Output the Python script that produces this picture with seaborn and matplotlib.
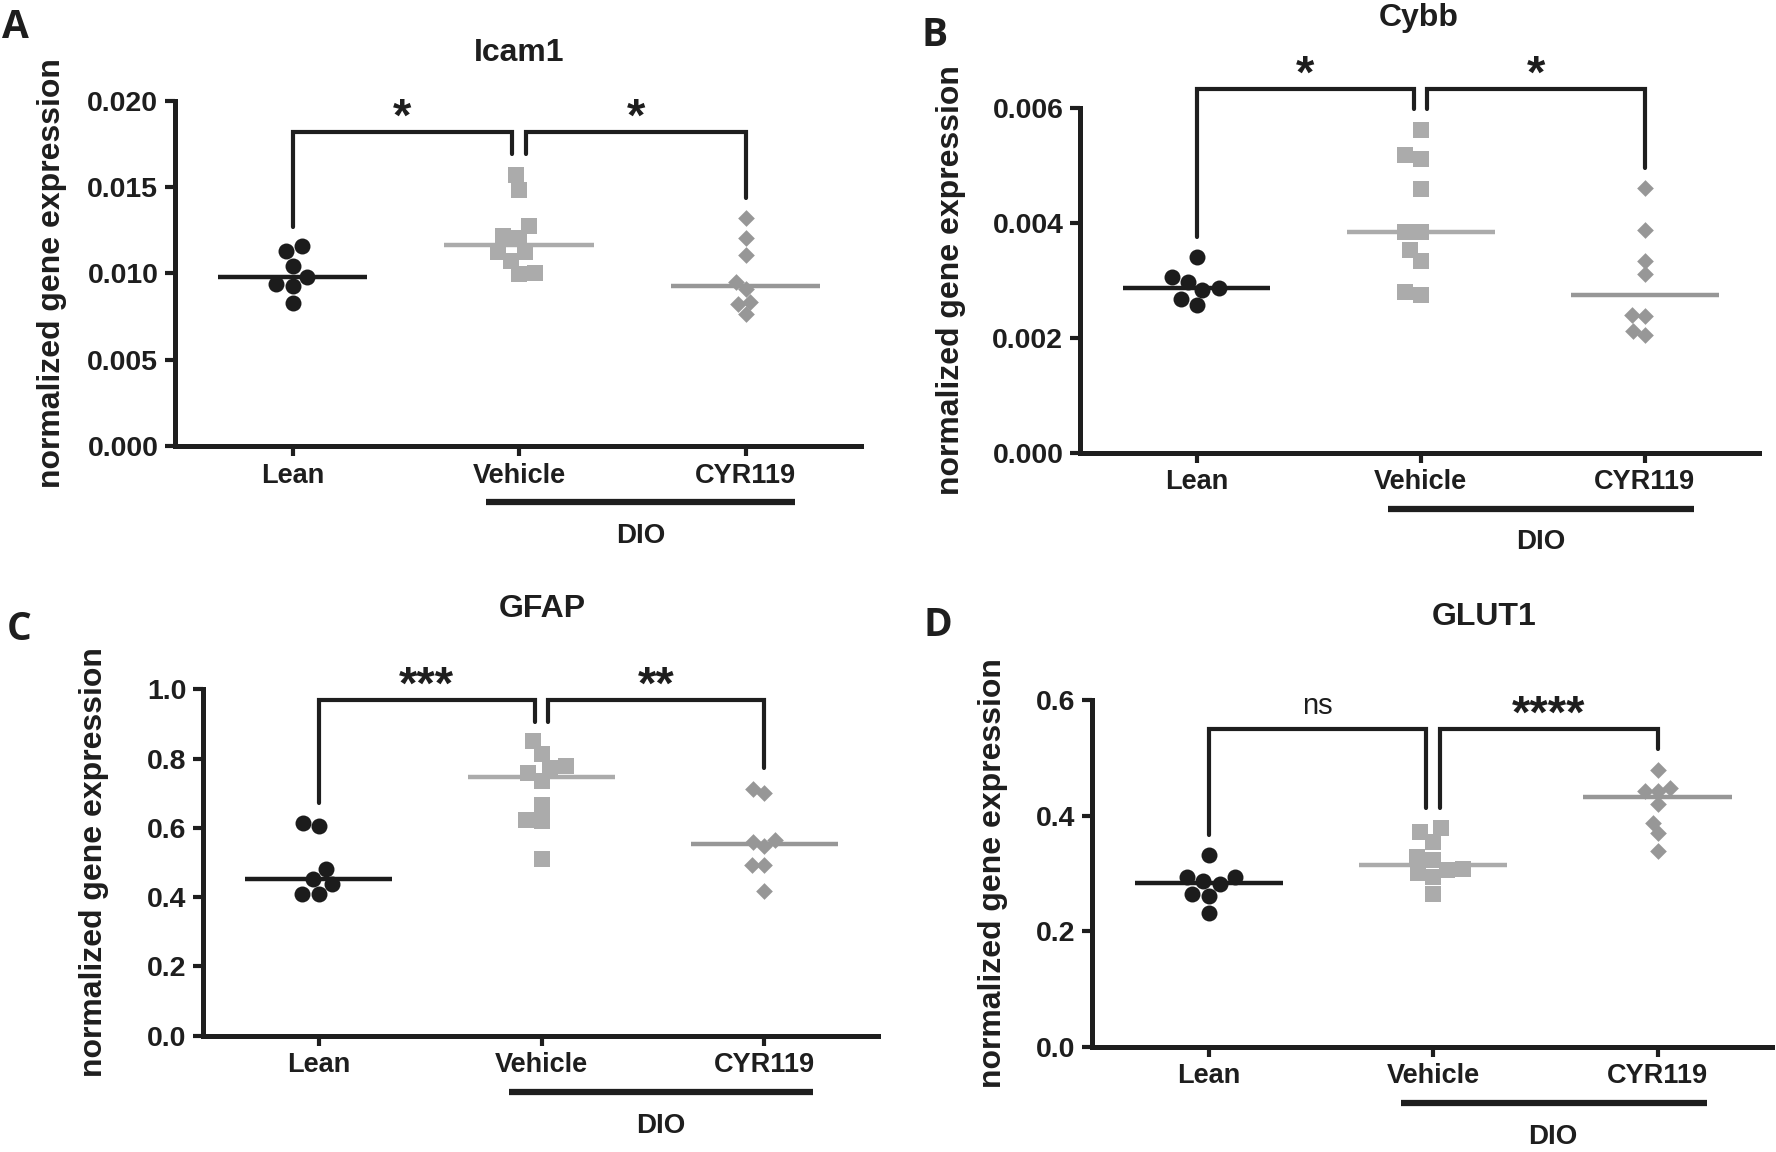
import numpy as np
import pandas as pd
import matplotlib
matplotlib.use("Agg")
import matplotlib.pyplot as plt
import seaborn as sns

# data (normalized gene expression per animal)
groups = ["Lean", "Vehicle", "CYR119"]

icam1_lean = [0.01158, 0.01130, 0.01045, 0.00976, 0.00937, 0.00928, 0.00831]
icam1_vehicle = [0.01569, 0.01482, 0.01277, 0.01215, 0.01206, 0.01121, 0.01121, 0.01072, 0.01001, 0.00995]
icam1_cyr119 = [0.01318, 0.01202, 0.01105, 0.00951, 0.00908, 0.00835, 0.00821, 0.00767]

cybb_lean = [0.00341, 0.00306, 0.00297, 0.00286, 0.00283, 0.00268, 0.00257]
cybb_vehicle = [0.00561, 0.00518, 0.00511, 0.00458, 0.00383, 0.00383, 0.00353, 0.00333, 0.00280, 0.00274]
cybb_cyr119 = [0.00461, 0.00387, 0.00333, 0.00310, 0.00239, 0.00238, 0.00212, 0.00205]

gfap_lean = [0.615, 0.604, 0.480, 0.452, 0.437, 0.409, 0.409]
gfap_vehicle = [0.850, 0.813, 0.779, 0.772, 0.759, 0.735, 0.666, 0.623, 0.620, 0.510]
gfap_cyr119 = [0.712, 0.702, 0.565, 0.560, 0.549, 0.493, 0.493, 0.419]

glut1_lean = [0.332, 0.293, 0.293, 0.287, 0.281, 0.265, 0.261, 0.231]
glut1_vehicle = [0.378, 0.371, 0.355, 0.329, 0.323, 0.307, 0.306, 0.301, 0.294, 0.265]
glut1_cyr119 = [0.479, 0.447, 0.443, 0.443, 0.420, 0.388, 0.369, 0.339]

titles = ["Icam1", "Cybb", "GFAP", "GLUT1"]
letters = ["A", "B", "C", "D"]
yticks = [[0, 0.005, 0.010, 0.015, 0.020], [0, 0.002, 0.004, 0.006],
          [0, 0.2, 0.4, 0.6, 0.8, 1.0], [0, 0.2, 0.4, 0.6]]
ydecimals = [3, 3, 1, 1]
signif = [("*", "*"), ("*", "*"), ("***", "**"), ("ns", "****")]

panels = [
    [icam1_lean, icam1_vehicle, icam1_cyr119],
    [cybb_lean, cybb_vehicle, cybb_cyr119],
    [gfap_lean, gfap_vehicle, gfap_cyr119],
    [glut1_lean, glut1_vehicle, glut1_cyr119],
]

# bracket heights in data units: bar, lean arm end, vehicle arm end, cyr arm end
brackets = [
    (0.01816, 0.0127, 0.0169, 0.01434),
    (0.006325, 0.003756, 0.00597, 0.004957),
    (0.969, 0.673, 0.907, 0.772),
    (0.5498, 0.3663, 0.4125, 0.5146),
]

# layout in pixels of the 1776x1152 canvas
W, H = 1776, 1152
axes_px = [(175, 861, 100.7, 446), (1080, 1759, 107.7, 452.7),
           (203, 878, 689.3, 1035.7), (1092, 1772, 700, 1046.7)]
title_px = [(519, 53), (1419, 18), (542, 609), (1484, 617)]
letter_px = [(15, 27), (935, 35), (19, 630), (938, 626)]
ylabel_x = [52, 951, 94, 993]

colors = ["#1c1c1c", "#ababab", "#979797"]
markers = ["o", "s", "D"]
sizes = [11.5, 11, 8.5]
ink = "#1e1e1e"

sns.set_style("ticks")
plt.rcParams["font.family"] = ["Liberation Sans", "DejaVu Sans"]
plt.rcParams["font.weight"] = "bold"

fig = plt.figure(figsize=(W / 100, H / 100), dpi=100)

for k, vals in enumerate(panels):
    x0, x1, y0, y1 = axes_px[k]
    ax = fig.add_axes([x0 / W, 1 - y1 / H, (x1 - x0) / W, (y1 - y0) / H])

    df = pd.DataFrame({
        "group": np.repeat(groups, [len(v) for v in vals]),
        "value": np.concatenate(vals),
    })

    for i, g in enumerate(groups):
        sub = df[df["group"] == g]
        sns.swarmplot(data=sub, x="group", y="value", order=groups, marker=markers[i],
                      color=colors[i], size=sizes[i], linewidth=0, ax=ax, zorder=3)
        med = sub["value"].median()
        ax.hlines(med, i - 0.33, i + 0.33, color=colors[i], lw=3.2, zorder=4)

    ax.set_xlim(-0.52, 2.51)
    ax.set_ylim(0, yticks[k][-1])
    ax.set_yticks(yticks[k])
    ax.set_yticklabels([f"{t:.{ydecimals[k]}f}" for t in yticks[k]])
    ax.set_xlabel("")
    ax.set_ylabel("")
    sns.despine(ax=ax)
    for side in ["left", "bottom"]:
        ax.spines[side].set_linewidth(3.6)
        ax.spines[side].set_color(ink)
    ax.tick_params(axis="both", length=7, width=3, color=ink, pad=5)
    ax.tick_params(axis="y", labelsize=20.5)
    ax.tick_params(axis="x", labelsize=19.5)
    for lab in ax.get_xticklabels() + ax.get_yticklabels():
        lab.set_fontweight("bold")
        lab.set_color(ink)

    # significance brackets
    bar, a_lean, a_veh, a_cyr = brackets[k]
    ax.plot([0, 0, 0.97, 0.97], [a_lean, bar, bar, a_veh], color=ink, lw=3,
            clip_on=False, solid_joinstyle="miter", zorder=5)
    ax.plot([1.03, 1.03, 2, 2], [a_veh, bar, bar, a_cyr], color=ink, lw=3,
            clip_on=False, solid_joinstyle="miter", zorder=5)
    for xc, s in zip([0.485, 1.515], signif[k]):
        if s == "ns":
            ax.annotate(s, xy=(xc, bar), xytext=(0, 11), textcoords="offset points",
                        ha="center", va="baseline", fontsize=21, fontweight="normal",
                        color=ink, annotation_clip=False)
        else:
            ax.annotate(s, xy=(xc, bar), xytext=(0, 1), textcoords="offset points",
                        ha="center", va="baseline", fontsize=34, fontweight="bold",
                        color=ink, annotation_clip=False)

    # DIO bar under Vehicle and CYR119
    trans = ax.get_xaxis_transform()
    ax.plot([0.855, 2.22], [-0.162, -0.162], transform=trans, color=ink, lw=4.5,
            clip_on=False, solid_capstyle="butt")
    ax.text(1.535, -0.26, "DIO", transform=trans, ha="center", va="center",
            fontsize=20, fontweight="bold", color=ink)

    fig.text(title_px[k][0] / W, 1 - title_px[k][1] / H, titles[k], ha="center",
             va="center", fontsize=23, fontweight="bold", color=ink)
    fig.text(letter_px[k][0] / W, 1 - letter_px[k][1] / H, letters[k], ha="center",
             va="center", fontsize=28, fontweight="bold", color=ink,
             family=["Open Sans", "DejaVu Sans"])
    fig.text(ylabel_x[k] / W, 1 - (y0 + y1) / 2 / H, "normalized gene expression",
             rotation=90, ha="center", va="center", fontsize=23, fontweight="bold",
             color=ink)

fig.savefig("out.png", dpi=100)
